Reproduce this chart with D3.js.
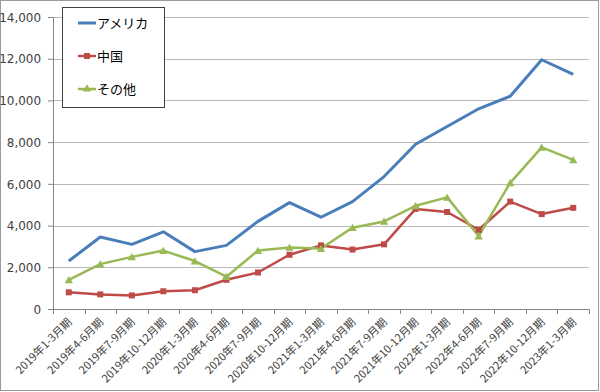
<!DOCTYPE html>
<html>
<head>
<meta charset="utf-8">
<script src="https://cdn.jsdelivr.net/npm/d3@7"></script>
<style>
  body { margin: 0; background: #fff; }
  svg { display: block; font-family: "Noto Sans CJK JP", sans-serif; }
</style>
</head>
<body>
<svg></svg>
<script>
let categories = ['2019年1-3月期', '2019年4-6月期', '2019年7-9月期', '2019年10-12月期',
  '2020年1-3月期', '2020年4-6月期', '2020年7-9月期', '2020年10-12月期',
  '2021年1-3月期', '2021年4-6月期', '2021年7-9月期', '2021年10-12月期',
  '2022年1-3月期', '2022年4-6月期', '2022年7-9月期', '2022年10-12月期', '2023年1-3月期']

let america = [2300, 3450, 3100, 3700, 2750, 3050, 4200, 5100, 4400, 5150, 6350, 7900, 8750, 9600, 10200, 11950, 11250]
let china = [800, 700, 650, 850, 900, 1400, 1750, 2600, 3050, 2850, 3100, 4800, 4650, 3800, 5150, 4550, 4850]
let other = [1400, 2150, 2500, 2800, 2300, 1550, 2800, 2950, 2900, 3900, 4200, 4950, 5350, 3500, 6050, 7750, 7150]

let seriesNames = ['アメリカ', '中国', 'その他']
let yTicks = [0, 2000, 4000, 6000, 8000, 10000, 12000, 14000]

let width = 600
let height = 392
let plotLeft = 53
let plotRight = 589
let plotTop = 17
let plotBottom = 309

let svg = d3.select('svg').attr('width', width).attr('height', height)

// chart border
svg.append('rect')
  .attr('x', 0.5).attr('y', 0.5)
  .attr('width', width - 2).attr('height', height - 2)
  .attr('fill', '#fff').attr('stroke', '#9a9a9a')

let xScale = d3.scaleBand().domain(categories).range([plotLeft, plotRight])
let yScale = d3.scaleLinear().domain([0, 14000]).range([plotBottom, plotTop])

// gridlines
svg.append('g')
  .selectAll('line')
  .data(yTicks.filter(d => d > 0))
  .enter()
  .append('line')
  .attr('x1', plotLeft).attr('x2', plotRight)
  .attr('y1', d => Math.round(yScale(d)) + 0.5)
  .attr('y2', d => Math.round(yScale(d)) + 0.5)
  .attr('stroke', '#b8b8b8')

// y axis
let yAxis = d3.axisLeft(yScale).tickValues(yTicks).tickSize(5).tickPadding(6)
  .tickFormat(d3.format(','))
let gy = svg.append('g')
  .attr('transform', 'translate(' + plotLeft + ',0)')
  .call(yAxis)
gy.select('.domain').attr('stroke', '#868686')
gy.selectAll('.tick line').attr('stroke', '#868686')
gy.selectAll('.tick text')
  .attr('fill', '#404040')
  .style('font-size', '13px')
  .style('font-family', '"DejaVu Sans", sans-serif')
  .attr('transform', 'scale(0.92,1)')
  .attr('x', -12 / 0.92)

// x axis
let xAxis = d3.axisBottom(xScale).tickSize(0).tickFormat('')
let gx = svg.append('g')
  .attr('transform', 'translate(0,' + plotBottom + ')')
  .call(xAxis)
gx.select('.domain').attr('stroke', '#868686')
gx.selectAll('.tick').remove()

// category boundary ticks
svg.append('g')
  .selectAll('line')
  .data(d3.range(categories.length + 1))
  .enter()
  .append('line')
  .attr('x1', i => Math.round(plotLeft + i * xScale.step()) + 0.5)
  .attr('x2', i => Math.round(plotLeft + i * xScale.step()) + 0.5)
  .attr('y1', plotBottom).attr('y2', plotBottom + 5)
  .attr('stroke', '#868686')

// x labels
svg.append('g')
  .selectAll('text')
  .data(categories)
  .enter()
  .append('text')
  .attr('transform', d => 'translate(' + (xScale(d) + xScale.bandwidth() / 2 + 1) + ',' + (plotBottom + 11) + ') rotate(-45)')
  .attr('text-anchor', 'end')
  .attr('dy', '0.35em')
  .attr('fill', '#404040')
  .style('font-size', '11px')
  .text(d => d)

let cx = (d, i) => xScale(categories[i]) + xScale.bandwidth() / 2

let line = d3.line()
  .x((d, i) => cx(d, i))
  .y(d => yScale(d))

let colors = ['#4a7ebb', '#be4b48', '#98b954']
let allSeries = [america, china, other]

allSeries.forEach((s, k) => {
  svg.append('path')
    .datum(s)
    .attr('d', line)
    .attr('fill', 'none')
    .attr('stroke', colors[k])
    .attr('stroke-width', k == 0 ? 3 : 2.5)
    .attr('stroke-linejoin', 'round')
})

// markers
svg.append('g')
  .selectAll('rect')
  .data(china)
  .enter()
  .append('rect')
  .attr('x', (d, i) => cx(d, i) - 3)
  .attr('y', d => yScale(d) - 3)
  .attr('width', 6).attr('height', 6)
  .attr('fill', colors[1])

svg.append('g')
  .selectAll('path')
  .data(other)
  .enter()
  .append('path')
  .attr('d', d3.symbol(d3.symbolTriangle, 30))
  .attr('transform', (d, i) => 'translate(' + cx(d, i) + ',' + (yScale(d) + 1) + ')')
  .attr('fill', colors[2])

// legend
let legend = svg.append('g')
legend.append('rect')
  .attr('x', 62.5).attr('y', 7.5)
  .attr('width', 102).attr('height', 100)
  .attr('fill', '#fff').attr('stroke', '#404040')

let legendY = [23, 56, 89]
seriesNames.forEach((name, k) => {
  let g = legend.append('g').attr('transform', 'translate(0,' + legendY[k] + ')')
  g.append('line')
    .attr('x1', 78).attr('x2', 96)
    .attr('stroke', colors[k]).attr('stroke-width', k == 0 ? 3 : 2.5)
  if (k == 1) {
    g.append('rect').attr('x', 84).attr('y', -3).attr('width', 6).attr('height', 6).attr('fill', colors[1])
  }
  if (k == 2) {
    g.append('path').attr('d', d3.symbol(d3.symbolTriangle, 30)).attr('transform', 'translate(87,0)').attr('fill', colors[2])
  }
  g.append('text')
    .attr('x', 97).attr('dy', '0.35em')
    .attr('fill', '#000')
    .style('font-size', '13px')
    .text(name)
})
</script>
</body>
</html>
